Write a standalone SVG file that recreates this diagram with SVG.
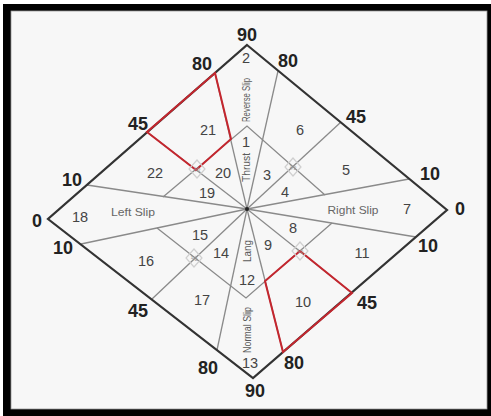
<svg xmlns="http://www.w3.org/2000/svg" width="491" height="416" viewBox="0 0 491 416">
<style>
.edge{fill:none;stroke:#333;stroke-width:2.2;stroke-linejoin:miter}
.ray{stroke:#8a8a8a;stroke-width:1.3;fill:none}
.red{fill:none;stroke:#c4262e;stroke-width:2;stroke-linejoin:miter}
.sym{fill:none;stroke:#cfcfcf;stroke-width:1.2}
.symt{font-family:"Liberation Sans",Arial,sans-serif;font-size:8px;fill:#9a9a9a;text-anchor:middle}
.big{font-family:"Liberation Sans",Arial,sans-serif;font-size:18px;font-weight:bold;fill:#222;text-anchor:middle}
.num{font-family:"Liberation Sans",Arial,sans-serif;font-size:14.5px;fill:#444;text-anchor:middle}
.lab{font-family:"Liberation Sans",Arial,sans-serif;font-size:11px;fill:#666;text-anchor:middle}
.vlab{font-family:"Liberation Sans",Arial,sans-serif;font-size:11px;fill:#5a5a5a;text-anchor:middle}
</style>
<rect x="0" y="0" width="491" height="416" fill="#ffffff"/>
<rect x="3" y="4" width="488" height="412" fill="#000"/>
<rect x="11" y="11" width="476" height="398" fill="#f7f7f7" stroke="#9a9a9a" stroke-width="0.8"/>

<g id="connectors">
  <line class="ray" x1="247" y1="209" x2="215" y2="73"/>
  <line class="ray" x1="247" y1="209" x2="278" y2="71"/>
  <line class="ray" x1="247" y1="209" x2="87" y2="185"/>
  <line class="ray" x1="247" y1="209" x2="81" y2="244"/>
  <line class="ray" x1="247" y1="209" x2="409" y2="179"/>
  <line class="ray" x1="247" y1="209" x2="416" y2="237"/>
  <line class="ray" x1="247" y1="209" x2="217" y2="350"/>
  <line class="ray" x1="247" y1="209" x2="283" y2="352"/>
  <line class="ray" x1="247" y1="209" x2="147" y2="132"/>
  <line class="ray" x1="247" y1="209" x2="341" y2="122"/>
  <line class="ray" x1="247" y1="209" x2="152" y2="299"/>
  <line class="ray" x1="247" y1="209" x2="352" y2="293"/>
  <polyline class="ray" points="163,197 247,126 325,195"/>
  <polyline class="ray" points="157,228 246,298 332,223"/>
</g>

<g id="diamond">
  <polygon class="edge" points="247,45 447,210 253,378 48,219"/>
</g>

<g id="red-zones">
  <polygon class="red" points="215,73 231,139 196,170 147,132"/>
  <polygon class="red" points="283,352 265,281 300,251 352,293"/>
</g>

<g id="symbols">
  <g id="sym-ul"><polygon class="sym" points="197,160 205,169 197,178 189,169"/><text class="symt" x="197" y="172">½</text></g>
  <g id="sym-ur"><polygon class="sym" points="293,158 301,167 293,176 285,167"/><text class="symt" x="293" y="170">½</text></g>
  <g id="sym-ll"><polygon class="sym" points="194,249 202,258 194,267 186,258"/><text class="symt" x="194" y="261">½</text></g>
  <g id="sym-lr"><polygon class="sym" points="300,242 308,251 300,260 292,251"/><text class="symt" x="300" y="254">½</text></g>
</g>

<circle id="centre" cx="247" cy="209" r="2" fill="#222"/>

<g id="edge-labels">
  <text class="big" x="247" y="40.5">90</text>
  <text class="big" x="202" y="69.5">80</text>
  <text class="big" x="288" y="66.5">80</text>
  <text class="big" x="138" y="129.5">45</text>
  <text class="big" x="356" y="123">45</text>
  <text class="big" x="72" y="185.5">10</text>
  <text class="big" x="430" y="179.5">10</text>
  <text class="big" x="37" y="226.5">0</text>
  <text class="big" x="460" y="214.5">0</text>
  <text class="big" x="63" y="253.5">10</text>
  <text class="big" x="428" y="251.5">10</text>
  <text class="big" x="138" y="316.5">45</text>
  <text class="big" x="367" y="308.5">45</text>
  <text class="big" x="208" y="373.5">80</text>
  <text class="big" x="294" y="368.5">80</text>
  <text class="big" x="255" y="396.5">90</text>
</g>

<g id="zone-labels">
  <text class="num" x="246" y="147">1</text>
  <text class="num" x="246" y="63" fill="#666">2</text>
  <text class="num" x="267" y="180">3</text>
  <text class="num" x="285" y="197">4</text>
  <text class="num" x="346" y="175">5</text>
  <text class="num" x="300" y="135">6</text>
  <text class="num" x="407" y="214" fill="#555">7</text>
  <text class="num" x="293" y="233">8</text>
  <text class="num" x="268" y="250">9</text>
  <text class="num" x="303" y="307">10</text>
  <text class="num" x="362" y="258">11</text>
  <text class="num" x="247" y="285">12</text>
  <text class="num" x="250" y="368" fill="#666">13</text>
  <text class="num" x="221" y="258">14</text>
  <text class="num" x="200" y="240">15</text>
  <text class="num" x="146" y="266">16</text>
  <text class="num" x="202" y="305">17</text>
  <text class="num" x="80" y="222" fill="#555">18</text>
  <text class="num" x="207" y="198">19</text>
  <text class="num" x="223" y="178">20</text>
  <text class="num" x="208" y="135">21</text>
  <text class="num" x="155" y="178">22</text>
</g>

<g id="slip-labels">
  <text class="lab" x="133" y="216" textLength="44" lengthAdjust="spacingAndGlyphs">Left Slip</text>
  <text class="lab" x="353" y="214" textLength="51" lengthAdjust="spacingAndGlyphs">Right Slip</text>
  <text class="vlab" transform="translate(250,100) rotate(-90)" textLength="44" lengthAdjust="spacingAndGlyphs">Reverse Slip</text>
  <text class="vlab" transform="translate(250,167.5) rotate(-90)" textLength="29" lengthAdjust="spacingAndGlyphs">Thrust</text>
  <text class="vlab" transform="translate(250.5,251) rotate(-90)" textLength="22" lengthAdjust="spacingAndGlyphs">Lang</text>
  <text class="vlab" transform="translate(250.5,330) rotate(-90)" textLength="46" lengthAdjust="spacingAndGlyphs">Normal Slip</text>
</g>
</svg>
